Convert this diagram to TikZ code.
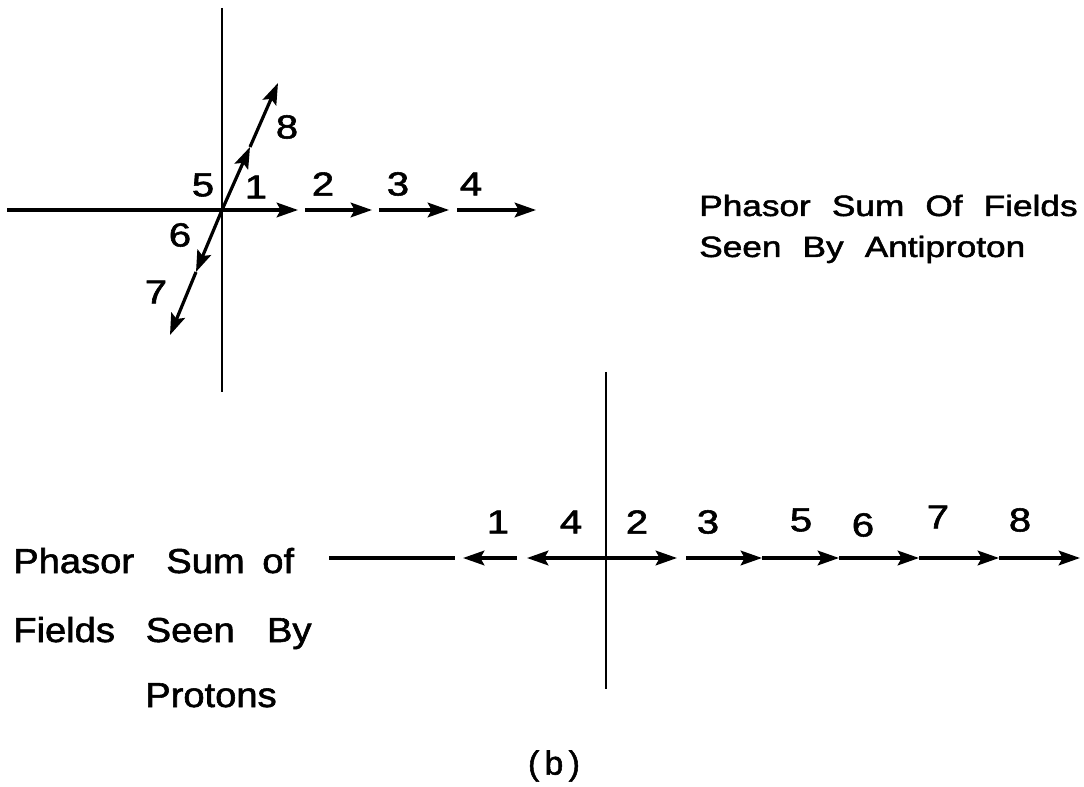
\documentclass[tikz,border=0pt]{standalone}
\usepackage{fontspec}
\setmainfont{Liberation Sans}[FakeBold=1.6]
\usetikzlibrary{arrows.meta}
\newcommand{\wx}[2]{\scalebox{#1}[1]{#2}}
\begin{document}
\begin{tikzpicture}[x=0.75pt,y=-0.75pt,
  vaxis/.style={line width=1.6pt},
  haxis/.style={line width=2.3pt},
  vec/.style={line width=2.4pt,-{Stealth[length=16pt,width=11pt,inset=3pt]}},
  num/.style={font=\fontsize{25}{25}\selectfont, inner sep=0pt},
  lbl/.style={font=\fontsize{22}{22}\selectfont, inner sep=0pt, anchor=base west},
  big/.style={font=\fontsize{26}{26}\selectfont, inner sep=0pt, anchor=base west}]
\useasboundingbox (0,0) rectangle (1084,787);

% ---------- top diagram ----------
\coordinate (O) at (222,210);
\coordinate (vt) at (222,8);
\coordinate (vb) at (222,392);
\coordinate (hl) at (7,210);
\coordinate (a1) at (298,210);
\coordinate (b2) at (305,210);
\coordinate (a2) at (372,210);
\coordinate (b3) at (379,210);
\coordinate (a3) at (449,210);
\coordinate (b4) at (457,210);
\coordinate (a4) at (536,210);
\coordinate (a5) at (250,147);
\coordinate (a8) at (278,83);
\coordinate (a6) at (196,272);
\coordinate (a7) at (170,335);

\draw[vaxis] (vt) -- (vb);
\draw[haxis] (hl) -- (O);
\draw[vec] (O) -- (a1);
\draw[vec] (b2) -- (a2);
\draw[vec] (b3) -- (a3);
\draw[vec] (b4) -- (a4);
\draw[vec] (O) -- (a5);
\draw[vec] (a5) -- (a8);
\draw[vec] (O) -- (a6);
\draw[vec] (a6) -- (a7);

\node[num] (t1) at (256,187) {\wx{1.2}{1}};
\node[num] (t2) at (323,184) {\wx{1.2}{2}};
\node[num] (t3) at (398,184) {\wx{1.2}{3}};
\node[num] (t4) at (471,184) {\wx{1.2}{4}};
\node[num] (t5) at (203,185) {\wx{1.2}{5}};
\node[num] (t6) at (180,235) {\wx{1.2}{6}};
\node[num] (t7) at (156,292) {\wx{1.2}{7}};
\node[num] (t8) at (287,127) {\wx{1.2}{8}};

\node[lbl] (ttl1) at (699,216) {\wx{1.2}{Phasor\hspace{0.6em}Sum\hspace{0.6em}Of\hspace{0.6em}Fields}};
\node[lbl] (ttl2) at (699,257) {\wx{1.2}{Seen\hspace{0.6em}By\hspace{0.6em}Antiproton}};

% ---------- bottom diagram ----------
\coordinate (P) at (606,558);
\coordinate (pvt) at (606,372);
\coordinate (pvb) at (606,689);
\coordinate (ls) at (329,558);
\coordinate (le) at (455,558);
\coordinate (s1) at (517,558);
\coordinate (e1) at (463,558);
\coordinate (e4) at (527,558);
\coordinate (e2) at (677,558);
\coordinate (s3) at (686,558);
\coordinate (e3) at (762,558);
\coordinate (e5) at (839,558);
\coordinate (e6) at (919,558);
\coordinate (e7) at (999,558);
\coordinate (e8) at (1080,558);

\draw[vaxis] (pvt) -- (pvb);
\draw[haxis] (ls) -- (le);
\draw[vec] (s1) -- (e1);
\draw[vec] (P) -- (e4);
\draw[vec] (P) -- (e2);
\draw[vec] (s3) -- (e3);
\draw[vec] (e3) -- (e5);
\draw[vec] (e5) -- (e6);
\draw[vec] (e6) -- (e7);
\draw[vec] (e7) -- (e8);

\node[num] (u1) at (498,522) {\wx{1.2}{1}};
\node[num] (u4) at (571,522) {\wx{1.2}{4}};
\node[num] (u2) at (637,522) {\wx{1.2}{2}};
\node[num] (u3) at (708,522) {\wx{1.2}{3}};
\node[num] (u5) at (801,520) {\wx{1.2}{5}};
\node[num] (u6) at (863,525) {\wx{1.2}{6}};
\node[num] (u7) at (938,517) {\wx{1.2}{7}};
\node[num] (u8) at (1020,520) {\wx{1.2}{8}};

\node[big] (p1) at (13,573) {\wx{1.1}{Phasor\hspace{22pt}Sum\hspace{12pt}of}};
\node[big] (p2) at (13,642) {\wx{1.1}{Fields\hspace{21pt}Seen\hspace{22pt}By}};
\node[big] (p3) at (145,707) {\wx{1.1}{Protons}};

\node[font=\fontsize{25}{25}\selectfont, inner sep=0pt] (cap) at (554,766) {(\,b\,)};
\end{tikzpicture}
\end{document}
